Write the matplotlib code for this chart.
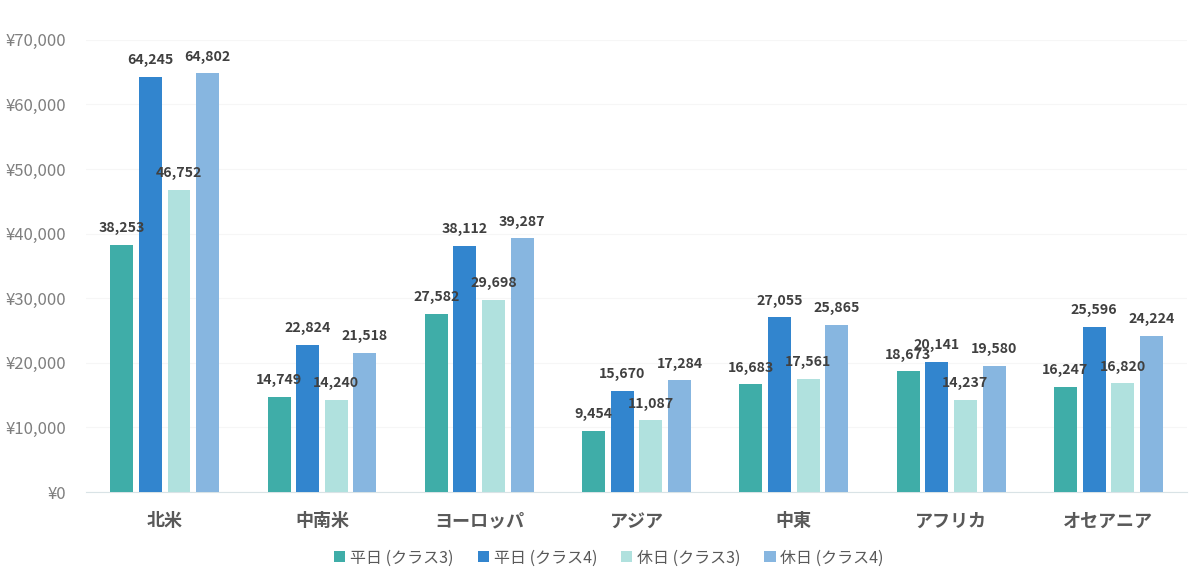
import numpy as np
import matplotlib.pyplot as plt
from matplotlib.ticker import FuncFormatter

plt.rcParams['font.family'] = ['Noto Sans CJK JP', 'DejaVu Sans']

regions = ['北米', '中南米', 'ヨーロッパ', 'アジア', '中東', 'アフリカ', 'オセアニア']
series_names = ['平日 (クラス3)', '平日 (クラス4)', '休日 (クラス3)', '休日 (クラス4)']
weekday_c3 = [38253, 14749, 27582, 9454, 16683, 18673, 16247]
weekday_c4 = [64245, 22824, 38112, 15670, 27055, 20141, 25596]
holiday_c3 = [46752, 14240, 29698, 11087, 17561, 14237, 16820]
holiday_c4 = [64802, 21518, 39287, 17284, 25865, 19580, 24224]
colors = ['#3FADA8', '#3285CE', '#B0E1DE', '#87B6E0']

fig = plt.figure(figsize=(12, 5.76), dpi=100)
ax = fig.add_axes([0.0717, 0.1458, 0.9175, 0.785])

x = np.arange(len(regions))
width = 0.146
step = 0.182
all_series = [weekday_c3, weekday_c4, holiday_c3, holiday_c4]
for i, (vals, name, col) in enumerate(zip(all_series, series_names, colors)):
    pos = x + (i - 1.5) * step
    ax.bar(pos, vals, width, color=col, label=name, zorder=3)
    for p, v in zip(pos, vals):
        ax.annotate(f'{v:,}', (p, v), xytext=(0, 7), textcoords='offset points',
                    ha='center', va='bottom', fontsize=10.2, fontweight='bold',
                    color='#404040', zorder=4)

ax.set_xlim(-0.5, len(regions) - 0.5)
ax.set_ylim(0, 70000)
ax.set_yticks(np.arange(0, 70001, 10000))
ax.yaxis.set_major_formatter(FuncFormatter(lambda v, _: f'¥{int(v):,}'))
ax.set_xticks(x)
ax.set_xticklabels(regions, fontsize=13, fontweight='bold', color='#595959')
ax.tick_params(axis='y', labelsize=12, labelcolor='#7f7f7f', length=0, pad=14)
ax.tick_params(axis='x', length=0, pad=14)
ax.grid(axis='y', color='#f6f6f6', linewidth=0.8, zorder=0)
for s in ['top', 'right', 'left']:
    ax.spines[s].set_visible(False)
ax.spines['bottom'].set_color('#d9e3e6')

ax.legend(loc='upper center', bbox_to_anchor=(0.475, -0.095), ncol=4, frameon=False,
          fontsize=11.5, labelcolor='#595959', handlelength=0.7, handleheight=0.7,
          handletextpad=0.3, columnspacing=1.5)

fig.savefig('out.png', dpi=100)
